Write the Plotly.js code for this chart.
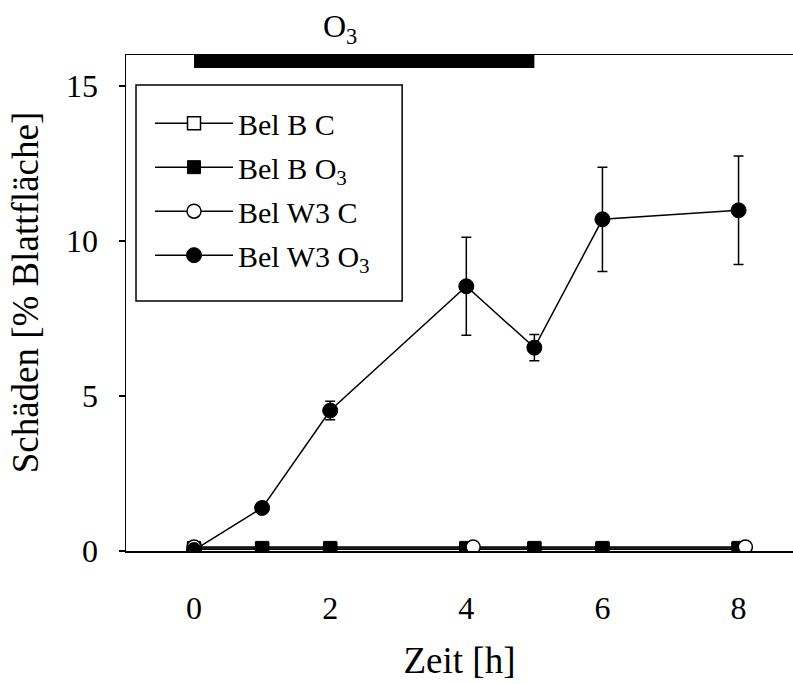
<!DOCTYPE html>
<html>
<head>
<meta charset="utf-8">
<script src="https://cdn.plot.ly/plotly-3.0.1.min.js"></script>
<style>html,body{margin:0;padding:0;background:#fff;}#chart{width:793px;height:684px;}</style>
</head>
<body>
<div id="chart"></div>
<script>
// Data
const timeAll = [0, 1, 2, 4, 5, 6, 8];
const belBC = [0.06, 0.06, 0.06, 0.06, 0.06, 0.06, 0.06];
const belBO3 = [0.1, 0.1, 0.1, 0.1, 0.1, 0.1, 0.1];
const timeW3C = [0, 4.1, 8.1];
const belW3C = [0.13, 0.13, 0.13];
const belW3O3 = [0.03, 1.39, 4.53, 8.54, 6.56, 10.7, 10.99];
const belW3O3Err = [0, 0, 0.3, 1.58, 0.42, 1.68, 1.75];
const o3Period = [0, 5];
const yTicks = [0, 5, 10, 15];
const xTicks = [0, 2, 4, 6, 8];

const FONT = 'Times New Roman, Liberation Serif, DejaVu Serif, serif';
const lineStyle = {color: '#000', width: 1.5};

const traces = [
  {name: 'Bel B C', x: timeAll, y: belBC, mode: 'lines+markers', line: lineStyle,
   marker: {symbol: 'square', size: 13, color: '#fff', line: {color: '#000', width: 1.5}}, legendgroup: 'a'},
  {name: 'Bel B O<sub>3</sub>', x: timeAll, y: belBO3, mode: 'lines+markers', line: lineStyle,
   marker: {symbol: 'square', size: 13, color: '#000', line: {color: '#000', width: 1}}, legendgroup: 'b'},
  {name: 'Bel W3 C', x: timeW3C, y: belW3C, mode: 'lines+markers', line: lineStyle,
   marker: {symbol: 'circle', size: 14, color: '#fff', line: {color: '#000', width: 1.5}}, legendgroup: 'c'},
  {name: 'Bel W3 O<sub>3</sub>', x: timeAll, y: belW3O3, mode: 'lines+markers', line: lineStyle,
   marker: {symbol: 'circle', size: 15, color: '#000', line: {color: '#000', width: 1}},
   error_y: {type: 'data', array: belW3O3Err, visible: true, color: '#000', thickness: 1.5, width: 5},
   legendgroup: 'd'}
];

const layout = {
  width: 793, height: 684,
  margin: {l: 126, r: 0, t: 55, b: 133},
  paper_bgcolor: '#fff', plot_bgcolor: '#fff',
  font: {family: FONT, color: '#000', size: 30},
  showlegend: true,
  legend: {
    x: 0.036, y: 0.915, xanchor: 'left', yanchor: 'top',
    bgcolor: 'rgba(0,0,0,0)', borderwidth: 0,
    font: {family: FONT, size: 30, color: '#000'},
    tracegroupgap: 2, traceorder: 'grouped', itemwidth: 78
  },
  xaxis: {
    range: [-1, 8.8], tickvals: xTicks, ticktext: xTicks.map(String),
    showline: true, linecolor: '#000', linewidth: 1.5, mirror: true,
    ticks: '', showgrid: false, zeroline: false,
    tickfont: {family: FONT, size: 32}, ticklabelstandoff: 28,
    title: {text: 'Zeit [h]', font: {family: FONT, size: 37}, standoff: 22}
  },
  yaxis: {
    range: [0, 16], tickvals: yTicks, ticktext: yTicks.map(String),
    showline: true, linecolor: '#000', linewidth: 1.5, mirror: false,
    ticks: 'outside', ticklen: 6, tickwidth: 1.5, tickcolor: '#000',
    showgrid: false, zeroline: false,
    tickfont: {family: FONT, size: 32}, ticklabelstandoff: 14
  },
  shapes: [
    {type: 'rect', xref: 'x', yref: 'y',
     x0: o3Period[0], x1: o3Period[1], y0: 15.58, y1: 16,
     fillcolor: '#000', line: {width: 0}},
    {type: 'rect', xref: 'paper', yref: 'paper', layer: 'below',
     x0: 0.015, x1: 0.414, y0: 0.504, y1: 0.9395,
     fillcolor: '#fff', line: {color: '#000', width: 1.5}}
  ],
  annotations: [
    {text: 'O<sub>3</sub>', xref: 'x', yref: 'paper',
     x: (o3Period[0] + o3Period[1]) / 2 - 0.35, y: 1.0, yanchor: 'bottom', yshift: 4,
     showarrow: false, font: {family: FONT, size: 32, color: '#000'}},
    {text: 'Schäden [% Blattfläche]', xref: 'paper', yref: 'paper',
     x: -0.151, y: 0.522, xanchor: 'center', yanchor: 'middle', textangle: -90,
     showarrow: false, font: {family: FONT, size: 37, color: '#000'}}
  ]
};

Plotly.newPlot('chart', traces, layout, {displayModeBar: false, staticPlot: true});
</script>
</body>
</html>
